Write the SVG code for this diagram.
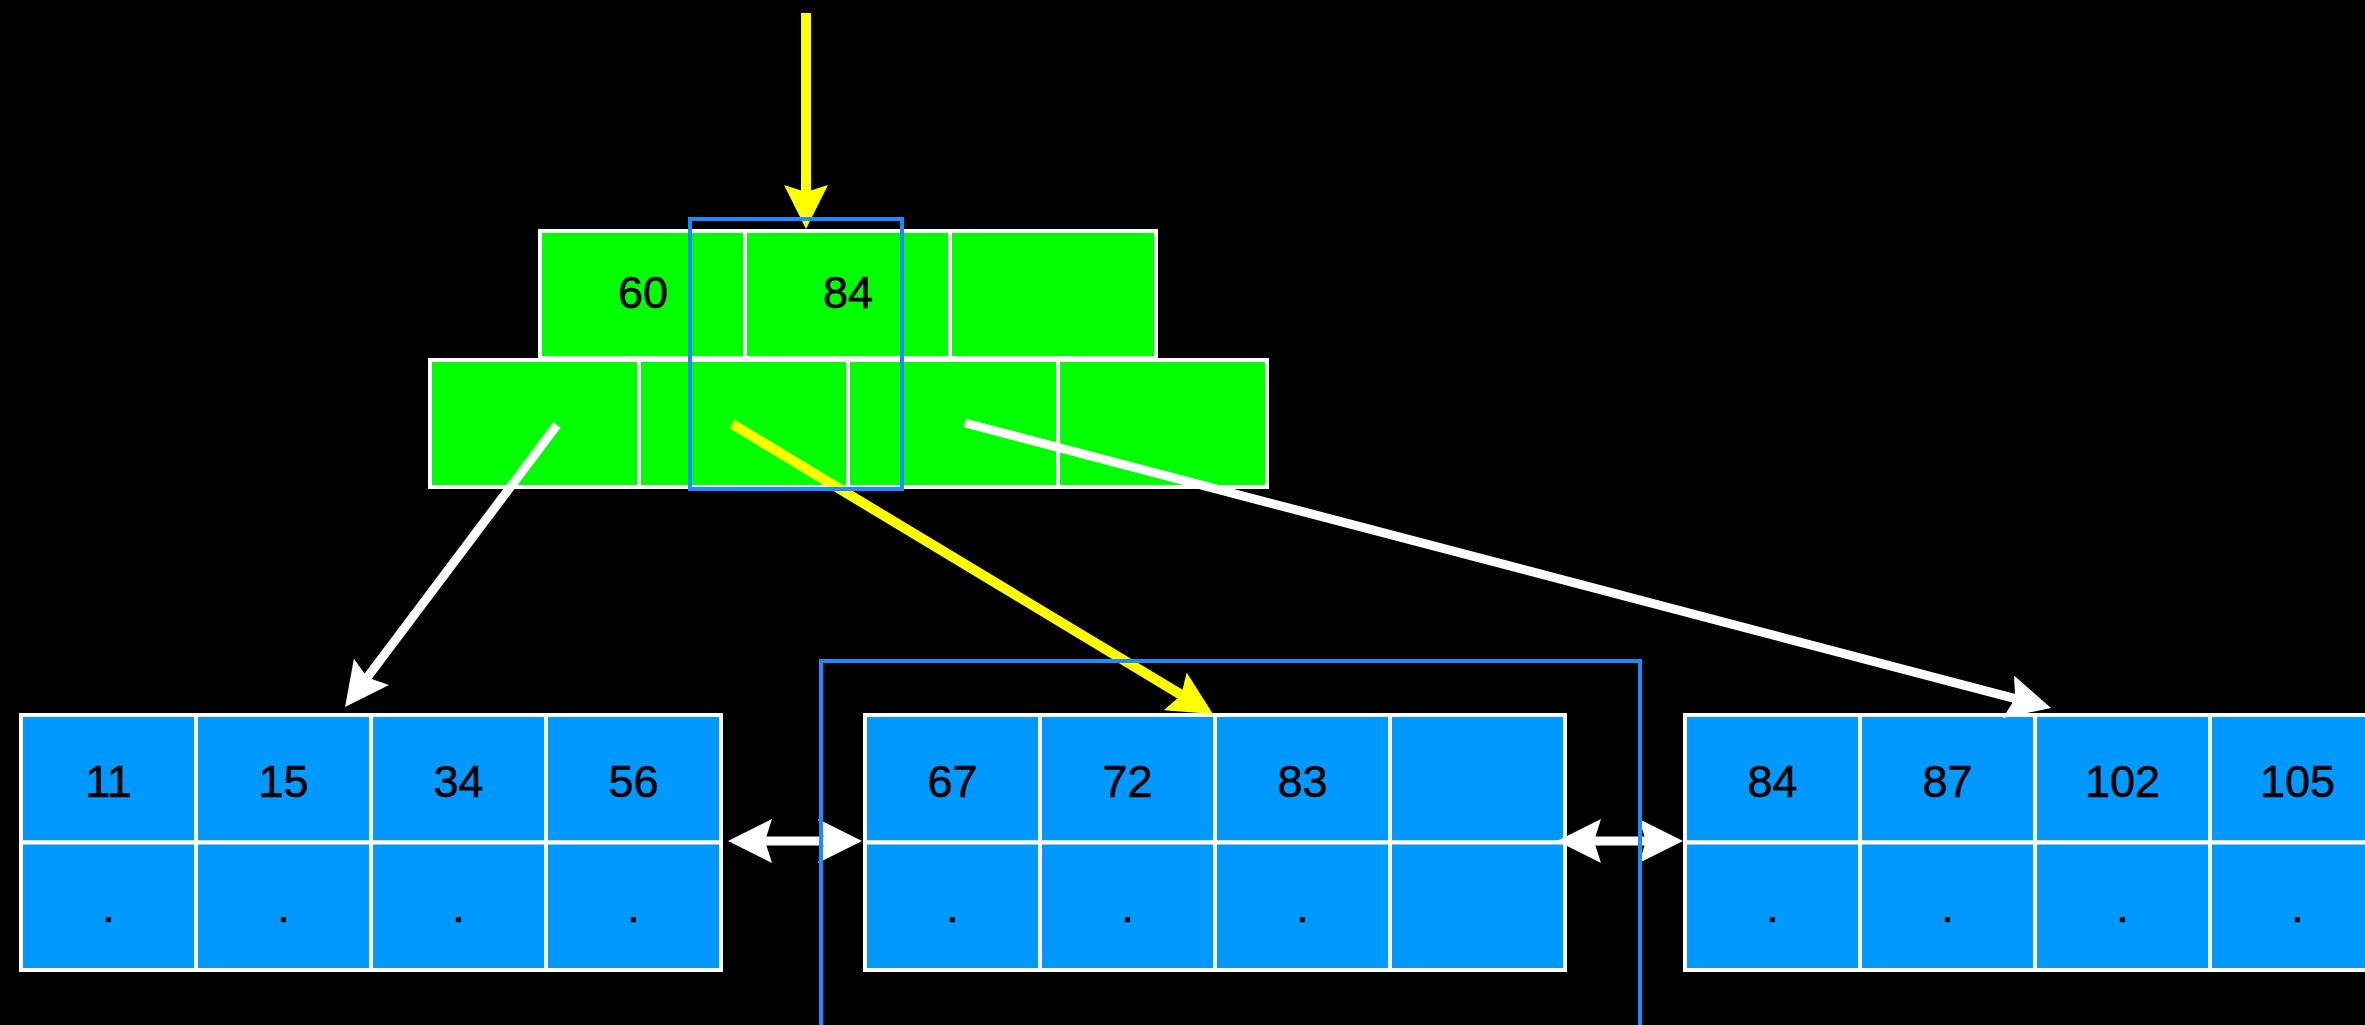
<svg xmlns="http://www.w3.org/2000/svg" width="2365" height="1025" viewBox="0 0 2365 1025">
<style>
.g{fill:#00ff00;stroke:#ffffff;stroke-width:4}
.b{fill:#0099ff;stroke:#ffffff;stroke-width:4}
.t{font-family:"Liberation Sans",Arial,sans-serif;font-size:45px;fill:#000000;text-anchor:middle;stroke:#000000;stroke-width:0.6}
.hl{fill:none;stroke:#1a8cff;stroke-width:4}
.cw{stroke:#ffffff;stroke-width:9;fill:none}
.cy{stroke:#ffff00;stroke-width:10;fill:none}
</style>
<defs>
<marker id="aw" viewBox="0 0 44 44" markerWidth="44" markerHeight="44" refX="7" refY="22" markerUnits="userSpaceOnUse" orient="auto-start-reverse"><path d="M0,0 L44,22 L0,44 L7,22 Z" fill="#ffffff"/></marker>
<marker id="ay" viewBox="0 0 44 44" markerWidth="44" markerHeight="44" refX="7" refY="22" markerUnits="userSpaceOnUse" orient="auto"><path d="M0,0 L44,22 L0,44 L7,22 Z" fill="#ffff00"/></marker>
</defs>
<rect x="0" y="0" width="2365" height="1025" fill="#000000"/>

<g id="root-keys">
<rect class="g" x="540" y="231" width="205" height="127"/>
<rect class="g" x="745" y="231" width="205" height="127"/>
<rect class="g" x="950" y="231" width="206" height="127"/>
<text class="t" x="643" y="308">60</text>
<text class="t" x="848" y="308">84</text>
</g>
<g id="root-pointers">
<rect class="g" x="430" y="360" width="209" height="127"/>
<rect class="g" x="639" y="360" width="209" height="127"/>
<rect class="g" x="848" y="360" width="210" height="127"/>
<rect class="g" x="1058" y="360" width="209" height="127"/>
</g>

<g id="leaf-1">
<rect class="b" x="21" y="715" width="175" height="127.5"/>
<rect class="b" x="196" y="715" width="175" height="127.5"/>
<rect class="b" x="371" y="715" width="175" height="127.5"/>
<rect class="b" x="546" y="715" width="175" height="127.5"/>
<rect class="b" x="21" y="842.5" width="175" height="127.5"/>
<rect class="b" x="196" y="842.5" width="175" height="127.5"/>
<rect class="b" x="371" y="842.5" width="175" height="127.5"/>
<rect class="b" x="546" y="842.5" width="175" height="127.5"/>
<text class="t" x="108.5" y="797">11</text>
<text class="t" x="283.5" y="797">15</text>
<text class="t" x="458.5" y="797">34</text>
<text class="t" x="633.5" y="797">56</text>
<text class="t" x="108.5" y="922">.</text>
<text class="t" x="283.5" y="922">.</text>
<text class="t" x="458.5" y="922">.</text>
<text class="t" x="633.5" y="922">.</text>
</g>

<g id="leaf-2">
<rect class="b" x="865" y="715" width="175" height="127.5"/>
<rect class="b" x="1040" y="715" width="175" height="127.5"/>
<rect class="b" x="1215" y="715" width="175" height="127.5"/>
<rect class="b" x="1390" y="715" width="175" height="127.5"/>
<rect class="b" x="865" y="842.5" width="175" height="127.5"/>
<rect class="b" x="1040" y="842.5" width="175" height="127.5"/>
<rect class="b" x="1215" y="842.5" width="175" height="127.5"/>
<rect class="b" x="1390" y="842.5" width="175" height="127.5"/>
<text class="t" x="952.5" y="797">67</text>
<text class="t" x="1127.5" y="797">72</text>
<text class="t" x="1302.5" y="797">83</text>
<text class="t" x="952.5" y="922">.</text>
<text class="t" x="1127.5" y="922">.</text>
<text class="t" x="1302.5" y="922">.</text>
</g>

<g id="leaf-3">
<rect class="b" x="1685" y="715" width="175" height="127.5"/>
<rect class="b" x="1860" y="715" width="175" height="127.5"/>
<rect class="b" x="2035" y="715" width="175" height="127.5"/>
<rect class="b" x="2210" y="715" width="175" height="127.5"/>
<rect class="b" x="1685" y="842.5" width="175" height="127.5"/>
<rect class="b" x="1860" y="842.5" width="175" height="127.5"/>
<rect class="b" x="2035" y="842.5" width="175" height="127.5"/>
<rect class="b" x="2210" y="842.5" width="175" height="127.5"/>
<text class="t" x="1772.5" y="797">84</text>
<text class="t" x="1947.5" y="797">87</text>
<text class="t" x="2122.5" y="797">102</text>
<text class="t" x="2297.5" y="797">105</text>
<text class="t" x="1772.5" y="922">.</text>
<text class="t" x="1947.5" y="922">.</text>
<text class="t" x="2122.5" y="922">.</text>
<text class="t" x="2297.5" y="922">.</text>
</g>

<g id="connectors">
<line class="cy" x1="806" y1="13" x2="806" y2="192" marker-end="url(#ay)"/>
<line class="cw" x1="557" y1="425" x2="367.3" y2="677.4" marker-end="url(#aw)"/>
<line class="cy" x1="732" y1="424" x2="1181.3" y2="694.9" marker-end="url(#ay)"/>
<line class="cw" x1="965" y1="423" x2="2015.2" y2="698.6" marker-end="url(#aw)"/>
<line class="cw" x1="765" y1="841" x2="825" y2="841" marker-start="url(#aw)" marker-end="url(#aw)"/>
<line class="cw" x1="1594" y1="841" x2="1646" y2="841" marker-start="url(#aw)" marker-end="url(#aw)"/>
</g>

<g id="highlights">
<rect class="hl" x="690" y="219" width="212" height="270"/>
<rect class="hl" x="821" y="661" width="819" height="400"/>
</g>
</svg>
